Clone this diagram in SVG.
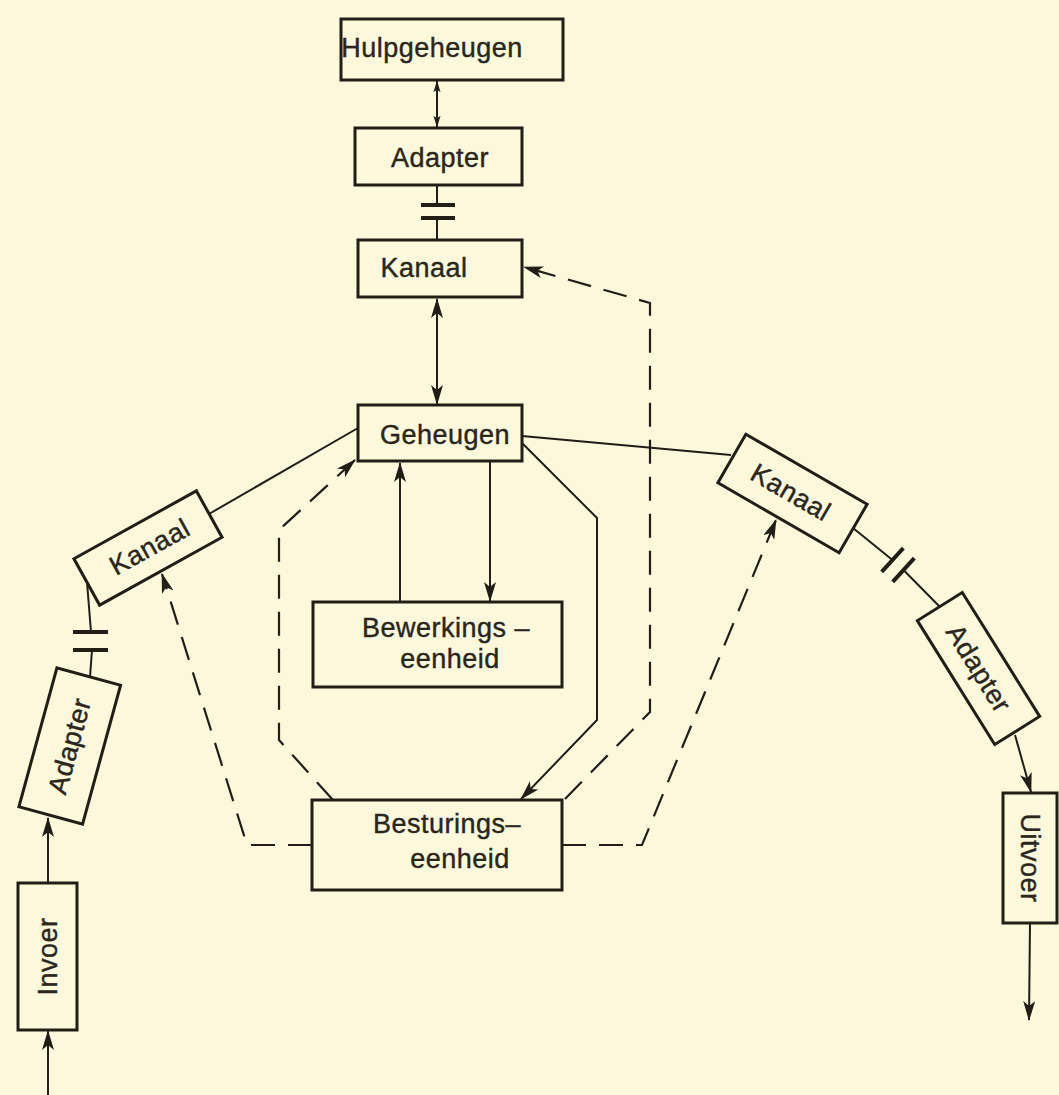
<svg xmlns="http://www.w3.org/2000/svg" width="1059" height="1095" viewBox="0 0 1059 1095">
<defs>
<style>
.box{fill:none;stroke:#221e16;stroke-width:3}
.ln{fill:none;stroke:#221e16;stroke-width:2}
.ds{fill:none;stroke:#221e16;stroke-width:2.2;stroke-dasharray:24 13}
.pl{stroke:#221e16;stroke-width:4}
text{font-family:"Liberation Sans","DejaVu Sans",sans-serif;font-size:27px;fill:#2a261c;stroke:#2a261c;stroke-width:0.4;letter-spacing:0.5px}
.c{text-anchor:middle}
</style>
<marker id="ah" viewBox="0 0 20 12" refX="19" refY="6" markerWidth="20" markerHeight="12" markerUnits="userSpaceOnUse" orient="auto-start-reverse"><path d="M0,0 L20,6 L0,12 L5,6 z" fill="#221e16"/></marker>
<marker id="as" viewBox="0 0 20 12" refX="19" refY="6" markerWidth="12" markerHeight="8" markerUnits="userSpaceOnUse" orient="auto-start-reverse"><path d="M0,0 L20,6 L0,12 L5,6 z" fill="#221e16"/></marker>
</defs>
<rect width="1059" height="1095" fill="#fbf8dc"/>

<g id="connectors">
<line class="ln" x1="437" y1="81" x2="437" y2="127" marker-start="url(#as)" marker-end="url(#as)"/>
<line class="ln" x1="437" y1="185" x2="437" y2="205"/>
<line class="pl" x1="421" y1="205" x2="455" y2="205"/>
<line class="pl" x1="421" y1="218" x2="455" y2="218"/>
<line class="ln" x1="437" y1="218" x2="437" y2="240"/>
<line class="ln" x1="437" y1="299" x2="437" y2="404" marker-start="url(#ah)" marker-end="url(#ah)"/>
<line class="ln" x1="490" y1="462" x2="490" y2="601" marker-end="url(#ah)"/>
<line class="ln" x1="400" y1="602" x2="400" y2="463" marker-end="url(#ah)"/>
<polyline class="ln" points="522,443 597,518 597,720 521,799" marker-end="url(#ah)"/>
<line class="ln" x1="358" y1="428" x2="209" y2="514"/>
<line class="ln" x1="522" y1="436" x2="731" y2="455"/>
<line class="ln" x1="853" y1="528" x2="892.5" y2="560"/>
<line class="pl" x1="881.7" y1="571.8" x2="903.3" y2="548.2"/>
<line class="pl" x1="892.7" y1="581.8" x2="914.3" y2="558.2"/>
<line class="ln" x1="903.5" y1="570" x2="940" y2="607"/>
<line class="ln" x1="87" y1="582" x2="91" y2="632"/>
<line class="pl" x1="73" y1="632" x2="108" y2="632"/>
<line class="pl" x1="73" y1="650" x2="108" y2="650"/>
<line class="ln" x1="92" y1="650" x2="90" y2="677"/>
<line class="ln" x1="48" y1="883" x2="48" y2="818" marker-end="url(#ah)"/>
<line class="ln" x1="48" y1="1095" x2="48" y2="1031" marker-end="url(#ah)"/>
<line class="ln" x1="1015" y1="735" x2="1031" y2="792" marker-end="url(#ah)"/>
<line class="ln" x1="1030" y1="923" x2="1029" y2="1020" marker-end="url(#ah)"/>
<polyline class="ds" points="333,800 279,740 279,530 355,460" marker-end="url(#ah)"/>
<polyline class="ds" points="565,799 650,712 650,303 524,267" marker-end="url(#ah)"/>
<polyline class="ds" points="312,845 247,845 162,574" marker-end="url(#ah)"/>
<polyline class="ds" points="562,845 642,845 776,520" marker-end="url(#ah)"/>
</g>

<g id="hulpgeheugen"><rect class="box" x="341" y="19" width="222" height="61"/><text class="c" x="432" y="57">Hulpgeheugen</text></g>
<g id="adapter-top"><rect class="box" x="355" y="128" width="167" height="57"/><text class="c" x="440" y="167">Adapter</text></g>
<g id="kanaal-top"><rect class="box" x="358" y="240" width="164" height="57"/><text class="c" x="424" y="277">Kanaal</text></g>
<g id="geheugen"><rect class="box" x="358" y="405" width="164" height="56"/><text class="c" x="445" y="444">Geheugen</text></g>
<g id="bewerkingseenheid"><rect class="box" x="313" y="602" width="249" height="85"/><text x="362" y="637">Bewerkings –</text><text class="c" x="450" y="668">eenheid</text></g>
<g id="besturingseenheid"><rect class="box" x="312" y="800" width="250" height="90"/><text x="373" y="833">Besturings–</text><text class="c" x="460" y="868">eenheid</text></g>
<g id="kanaal-left" transform="translate(148,548) rotate(-29)"><rect class="box" x="-70" y="-26.5" width="140" height="53"/><text class="c" x="2" y="9">Kanaal</text></g>
<g id="adapter-left" transform="translate(69.75,746) rotate(-74.7)"><rect class="box" x="-72" y="-33" width="144" height="66"/><text class="c" x="0" y="9">Adapter</text></g>
<g id="invoer" transform="translate(47.5,956.5) rotate(-90)"><rect class="box" x="-73.5" y="-29.5" width="147" height="59"/><text class="c" x="0" y="9">Invoer</text></g>
<g id="kanaal-right" transform="translate(792.5,493.5) rotate(30)"><rect class="box" x="-70" y="-28" width="140" height="56"/><text class="c" x="-2" y="9">Kanaal</text></g>
<g id="adapter-right" transform="translate(978.5,668.5) rotate(58)"><rect class="box" x="-73" y="-26.5" width="146" height="53"/><text class="c" x="0" y="9">Adapter</text></g>
<g id="uitvoer" transform="translate(1030,858) rotate(90)"><rect class="box" x="-65" y="-27" width="130" height="54"/><text class="c" x="0" y="9">Uitvoer</text></g>
</svg>
